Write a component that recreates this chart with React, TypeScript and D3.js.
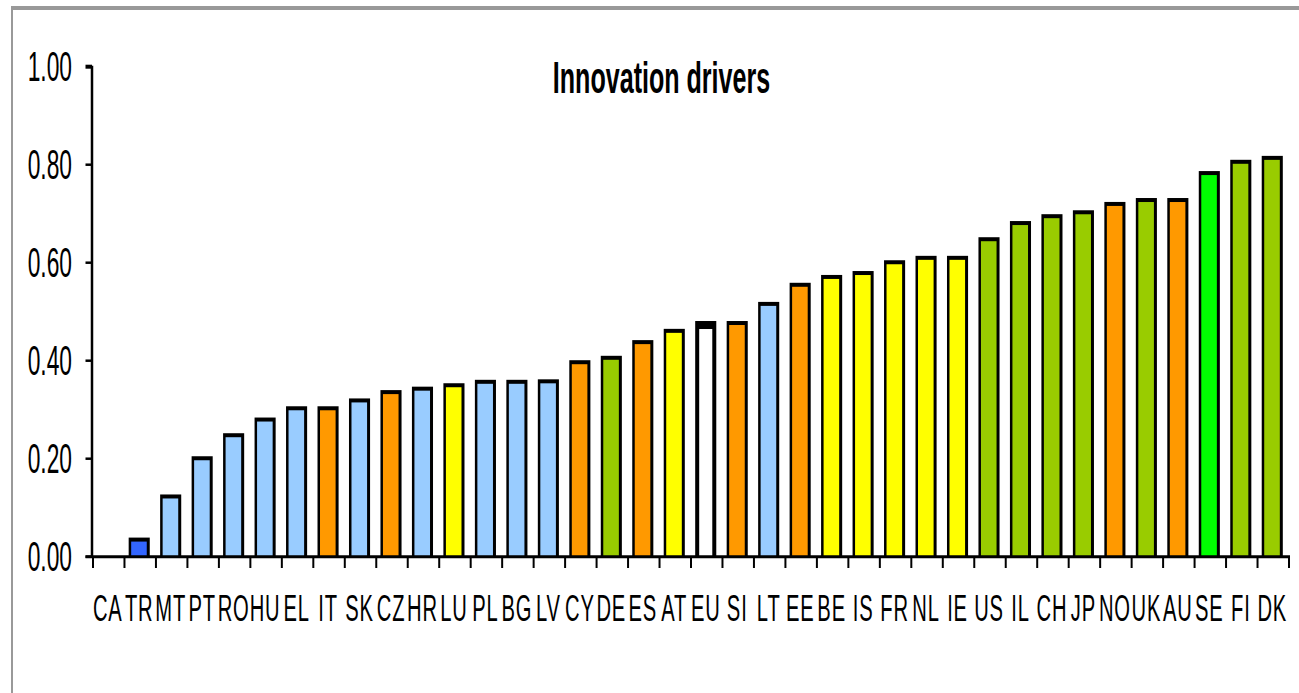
import React from "react";
import * as d3 from "d3";

// Country codes along the x axis, sorted by score
const categories = [
  "CA", "TR", "MT", "PT", "RO", "HU", "EL", "IT", "SK", "CZ", "HR", "LU", "PL",
  "BG", "LV", "CY", "DE", "ES", "AT", "EU", "SI", "LT", "EE", "BE", "IS", "FR",
  "NL", "IE", "US", "IL", "CH", "JP", "NO", "UK", "AU", "SE", "FI", "DK",
];

// Innovation drivers score (CA has no value)
const values: (number | null)[] = [
  null, 0.039, 0.127, 0.205, 0.252, 0.284, 0.307, 0.307, 0.323, 0.34, 0.347, 0.354, 0.361,
  0.361, 0.362, 0.401, 0.41, 0.442, 0.465, 0.481, 0.481, 0.52, 0.559, 0.575, 0.583, 0.605,
  0.614, 0.614, 0.652, 0.685, 0.699, 0.707, 0.724, 0.732, 0.732, 0.787, 0.81, 0.818,
];

// Country grouping per bar
const groups = [
  "none", "catchingDark", "catching", "catching", "catching", "catching", "catching", "moderate", "catching", "moderate", "catching", "follower", "catching",
  "catching", "catching", "moderate", "leader", "moderate", "follower", "eu", "moderate", "catching", "moderate", "follower", "follower", "follower",
  "follower", "follower", "leader", "leader", "leader", "leader", "moderate", "leader", "moderate", "top", "leader", "leader",
];

const groupColors: Record<string, string> = {
  none: "#ffffff",
  catchingDark: "#3366ff",
  catching: "#99ccff",
  moderate: "#ff9900",
  follower: "#ffff00",
  leader: "#99cc00",
  top: "#00ff00",
  eu: "#ffffff",
};

const yTicks = [0, 0.2, 0.4, 0.6, 0.8, 1.0];

const FONT = "'Liberation Sans', Arial, sans-serif";

export default function App() {
  const width = 1299;
  const height = 693;
  const plotLeft = 93;
  const plotRight = 1289;
  const y0 = 556.7;
  const y1 = 66.7;

  const x = d3
    .scaleBand<string>()
    .domain(categories)
    .range([plotLeft, plotRight])
    .paddingInner(0.33)
    .paddingOuter(0.165);
  const y = d3.scaleLinear().domain([0, 1]).range([y0, y1]);
  const step = x.step();

  return (
    <svg
      width={width}
      height={height}
      style={{ position: "absolute", left: 0, top: 0, background: "#fff" }}
    >
      <rect x={0} y={0} width={width} height={height} fill="#ffffff" />
      {/* outer frame */}
      <line x1={11} y1={8} x2={width} y2={8} stroke="#999999" strokeWidth={4} />
      <line x1={12} y1={6} x2={12} y2={height} stroke="#999999" strokeWidth={2} />

      {/* title */}
      <text
        transform={`translate(661.5, 93.3) scale(0.57, 1)`}
        textAnchor="middle"
        fontFamily={FONT}
        fontWeight="bold"
        fontSize={44}
        fill="#000"
      >
        Innovation drivers
      </text>

      {/* bars */}
      {categories.map((c, i) => {
        const v = values[i];
        if (v == null) return null;
        const bx = (x(c) as number) - 1;
        const bw = x.bandwidth();
        const top = y(v);
        const isEu = groups[i] === "eu";
        const insL = isEu ? 4 : 2.5;
        const insR = isEu ? 4 : 3;
        const insT = isEu ? 8 : 4;
        return (
          <g key={c}>
            <rect x={bx} y={top} width={bw} height={y0 - top} fill="#000" />
            <rect
              x={bx + insL}
              y={top + insT}
              width={bw - insL - insR}
              height={Math.max(0, y0 - top - insT)}
              fill={groupColors[groups[i]]}
            />
          </g>
        );
      })}

      {/* y axis */}
      <line x1={92} y1={y1 - 1} x2={92} y2={y0} stroke="#000" strokeWidth={2.5} />
      {yTicks.map((t) => (
        <g key={t}>
          <line x1={85.5} x2={92} y1={y(t)} y2={y(t)} stroke="#000" strokeWidth={t === 1 ? 4 : 2.5} />
          <text
            transform={`translate(72, ${y(t) + 14.5}) scale(0.53, 1)`}
            textAnchor="end"
            fontFamily={FONT}
            fontSize={43}
            fill="#000"
          >
            {d3.format(".2f")(t)}
          </text>
        </g>
      ))}

      {/* x axis */}
      <line x1={85.5} x2={plotRight + 1} y1={y0} y2={y0} stroke="#000" strokeWidth={3} />
      {d3.range(categories.length + 1).map((k) => {
        const tx = plotLeft + k * step;
        return (
          <line key={k} x1={tx} x2={tx} y1={y0} y2={568} stroke="#000" strokeWidth={2} />
        );
      })}
      {categories.map((c) => {
        const cx = (x(c) as number) + x.bandwidth() / 2 - 1;
        return (
          <text
            key={c}
            transform={`translate(${cx}, 621) scale(0.56, 1)`}
            textAnchor="middle"
            fontFamily={FONT}
            fontSize={36}
            letterSpacing={1.5}
            fill="#000"
          >
            {c}
          </text>
        );
      })}
    </svg>
  );
}
